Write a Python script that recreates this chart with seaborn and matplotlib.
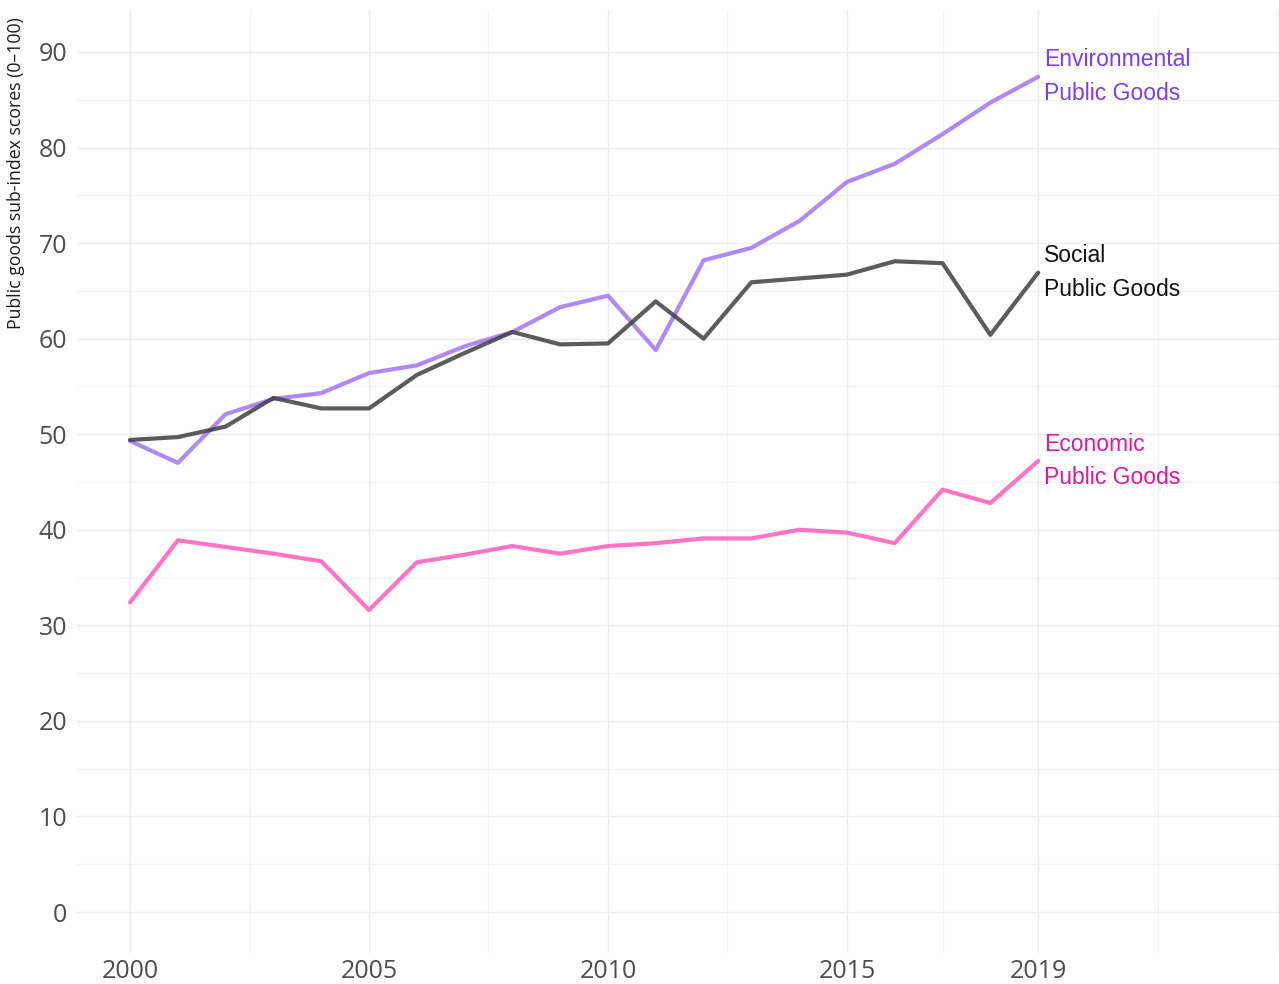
import pandas as pd
import matplotlib
matplotlib.use("Agg")
import matplotlib.pyplot as plt
import seaborn as sns

# valores
years = list(range(2000, 2020))
environmental = [49.3, 47.0, 52.1, 53.7, 54.3, 56.4, 57.2, 59.2, 60.7, 63.3,
                 64.5, 58.8, 68.2, 69.5, 72.3, 76.4, 78.3, 81.4, 84.7, 87.4]
social = [49.4, 49.7, 50.8, 53.8, 52.7, 52.7, 56.2, 58.5, 60.7, 59.4,
          59.5, 63.9, 60.0, 65.9, 66.3, 66.7, 68.1, 67.9, 60.4, 66.9]
economic = [32.4, 38.9, 38.2, 37.5, 36.7, 31.6, 36.6, 37.4, 38.3, 37.5,
            38.3, 38.6, 39.1, 39.1, 40.0, 39.7, 38.6, 44.2, 42.8, 47.2]

series_names = ["Economic", "Environmental", "Social"]
label_texts = {"Environmental": "Environmental\nPublic Goods",
               "Social": "Social\nPublic Goods",
               "Economic": "Economic\nPublic Goods"}
line_colors = {"Environmental": "#a275f7", "Social": "#3f3f3f", "Economic": "#ff5cbc"}
text_colors = {"Environmental": "#7a3ff2", "Social": "#111111", "Economic": "#e8159b"}

x_major = [2000, 2005, 2010, 2015, 2019]
x_minor = [2002.5, 2007.5, 2012.5, 2017, 2021.5, 2024]
y_major = list(range(0, 100, 10))
y_minor = list(range(5, 95, 10))

df = pd.DataFrame({
    "year": years * 3,
    "score": economic + environmental + social,
    "serie": ["Economic"] * 20 + ["Environmental"] * 20 + ["Social"] * 20,
})

sns.set_theme(style="white")
plt.rcParams["font.family"] = ["Open Sans", "DejaVu Sans"]

fig = plt.figure(figsize=(12.79, 9.84), dpi=100)
ax = fig.add_axes([0.0602, 0.0315, 0.9398, 0.9583])

# cuadricula
ax.set_xticks(x_major)
ax.set_xticks(x_minor, minor=True)
ax.set_yticks(y_major)
ax.set_yticks(y_minor, minor=True)
ax.grid(which="major", color="#ececec", linewidth=1.0)
ax.grid(which="minor", color="#f3f3f3", linewidth=0.8)
ax.set_axisbelow(True)

sns.lineplot(data=df, x="year", y="score", hue="serie", hue_order=series_names,
             palette=line_colors, linewidth=3.0, alpha=0.85, ax=ax, legend=False)

# etiquetas al final de cada linea
for name, vals in [("Environmental", environmental), ("Social", social), ("Economic", economic)]:
    ax.text(years[-1] + 0.13, vals[-1], label_texts[name], color=text_colors[name],
            fontsize=16.5, family=["Liberation Sans", "DejaVu Sans"],
            ha="left", va="center", linespacing=1.6)

ax.set_xlim(1998.89, 2024.04)
ax.set_ylim(-4.29, 94.39)
ax.set_xticklabels([str(v) for v in x_major])
ax.tick_params(axis="both", which="both", length=0, labelsize=18, labelcolor="#4d4d4d")
ax.tick_params(axis="x", pad=4)
ax.tick_params(axis="y", pad=7)
ax.set_xlabel("")
ax.set_ylabel("Public goods sub-index scores (0–100)", fontsize=12.7, color="#1a1a1a")
ax.yaxis.set_label_coords(-0.043, 0.827)
for s in ax.spines.values():
    s.set_visible(False)

fig.savefig("out.png", dpi=100)
